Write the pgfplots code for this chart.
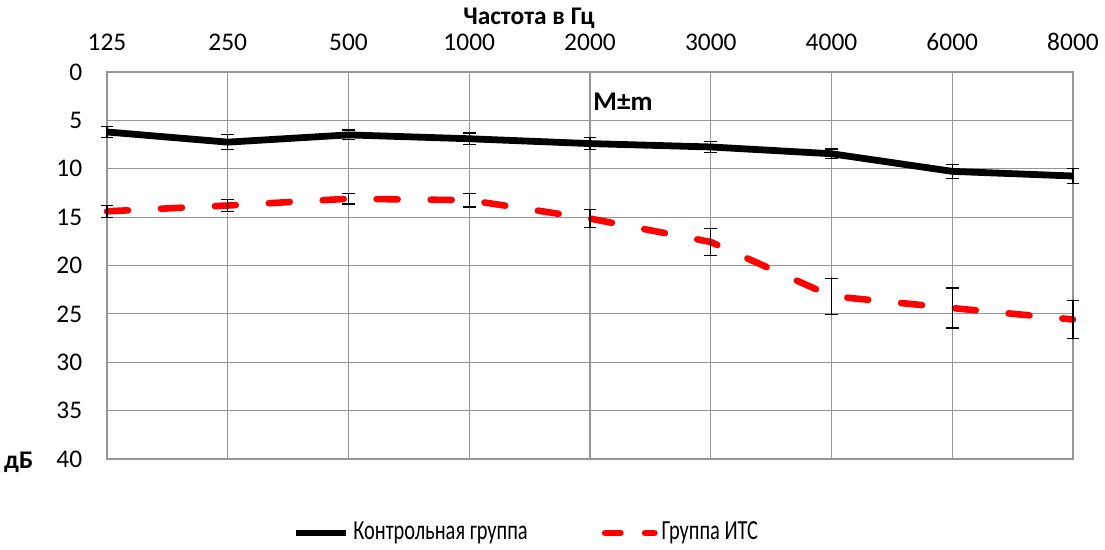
\documentclass[border=0pt]{standalone}
\usepackage{fontspec}
\setmainfont{Carlito}
\newfontfamily\condfont{Carlito}[FakeStretch=0.74]
\usepackage{pgfplots}
\pgfplotsset{compat=1.18}
\definecolor{gridgray}{RGB}{150,150,150}
\pgfplotstableread{
x y e
0 6.2 0.57
1 7.25 0.8
2 6.5 0.5
3 6.9 0.6
4 7.4 0.65
5 7.75 0.55
6 8.45 0.5
7 10.27 0.7
8 10.75 0.8
}\ctrl
\pgfplotstableread{
x y e
0 14.4 0.6
1 13.8 0.6
2 13.1 0.55
3 13.25 0.7
4 15.15 0.93
5 17.57 1.38
6 23.17 1.86
7 24.4 2.07
8 25.58 2.0
}\its
\begin{document}
\fontsize{12.7}{15}\selectfont
\begin{tikzpicture}
\useasboundingbox (-53.5pt,-45.5pt) rectangle (499pt,229.5pt);
\begin{axis}[
  at={(0,0)}, anchor=south west,
  scale only axis, width=483pt, height=193.5pt,
  xmin=0, xmax=8, ymin=0, ymax=40, y dir=reverse,
  xtick={0,...,8}, xticklabels={125,250,500,1000,2000,3000,4000,6000,8000},
  xticklabel pos=upper,
  ytick={0,5,...,40},
  grid=major, major grid style={gridgray, line width=0.55pt},
  axis line style={gridgray, line width=0.55pt},
  major tick length=0pt,
  tick label style={font=\fontsize{12.7}{15}\selectfont},
  xticklabel shift=6pt, yticklabel shift=8pt,
  /pgf/number format/assume math mode=true,
  clip=false,
  legend columns=2,
  legend style={at={(0.186,-0.191)}, anchor=west, draw=none, fill=none,
    font=\condfont\fontsize{13.8}{15}\selectfont,
    /tikz/every even column/.append style={column sep=35pt}},
  legend image code/.code={\draw[#1] (1.65pt,0pt) -- (26.35pt,0pt);},
  error bars/error bar style={black, line width=0.6pt, solid},
  error bars/error mark options={rotate=90, mark size=3.2pt, line width=0.6pt, black, solid},
]
\addplot[black, line width=3.4pt, line cap=butt, line join=round,
  error bars/.cd, y dir=both, y explicit]
  table[x=x, y=y, y error=e] {\ctrl};
\addlegendentry{Контрольная группа}
\addplot[red, line width=3.3pt, line cap=round, line join=round,
  dash pattern=on 10.5pt off 16.5pt,
  legend image post style={dash pattern=on 7.7pt off 12.3pt},
  error bars/.cd, y dir=both, y explicit]
  table[x=x, y=y, y error=e] {\its};
\addlegendentry{Группа ИТС}
\end{axis}
\node[font=\bfseries\fontsize{12.7}{15}\selectfont] at (211pt,220.5pt) {Частота в Гц};
\node[font=\bfseries\fontsize{13.5}{15}\selectfont] at (258pt,178.5pt) {M±m};
\node[font=\bfseries\fontsize{12.7}{15}\selectfont, anchor=east] at (-32.5pt,-1.5pt) {дБ};
\end{tikzpicture}
\end{document}
